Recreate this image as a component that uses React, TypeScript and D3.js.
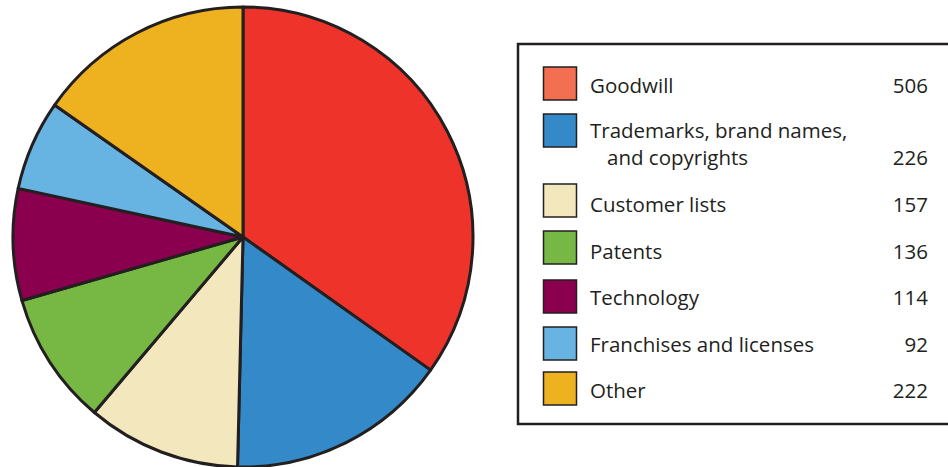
import React from "react";
import * as d3 from "d3";

const categories = [
  "Goodwill",
  "Trademarks, brand names,",
  "Customer lists",
  "Patents",
  "Technology",
  "Franchises and licenses",
  "Other",
];
const secondLines = ["", "and copyrights", "", "", "", "", ""];
const values = [506, 226, 157, 136, 114, 92, 222];
const pieColors = ["#EE332A", "#348AC9", "#F3E7BD", "#77B743", "#8A004F", "#67B3E2", "#EEB120"];
const legendColors = ["#F36F51", "#348AC9", "#F3E7BD", "#77B743", "#8A004F", "#67B3E2", "#EEB120"];

const W = 948;
const H = 467;
const cx = 243;
const cy = 237;
const R = 230;

const swatchTops = [67, 114, 184, 231, 280, 327, 372];
const baselines = [93, 138, 212, 259, 305, 352, 398];

export default function App() {
  const pie = d3
    .pie<number>()
    .sort(null)
    .value((d) => d)
    .startAngle(0)
    .endAngle(2 * Math.PI);
  const arcs = pie(values);
  const arc = d3.arc<d3.PieArcDatum<number>>().innerRadius(0).outerRadius(R);
  const dark = "#231F20";
  const font = "'Open Sans', 'Noto Sans', sans-serif";

  return (
    <svg
      width={W}
      height={H}
      style={{ position: "absolute", left: 0, top: 0, background: "#fff" }}
    >
      <g transform={`translate(${cx},${cy})`}>
        {arcs.map((a, i) => (
          <path
            key={i}
            d={arc(a) || ""}
            fill={pieColors[i]}
            stroke={dark}
            strokeWidth={3}
            strokeLinejoin="round"
          />
        ))}
      </g>
      <rect x={518} y={44} width={440} height={380} fill="none" stroke={dark} strokeWidth={2.5} />
      {categories.map((c, i) => {
        const top = swatchTops[i];
        const base = baselines[i];
        const two = secondLines[i] !== "";
        return (
          <g key={i} fontFamily={font} fontSize={20.5} fill={dark}>
            <rect x={543.5} y={top} width={33} height={33} fill={legendColors[i]} stroke={dark} strokeWidth={1.5} />
            <text x={590} y={base}>{c}</text>
            {two && <text x={607} y={165}>{secondLines[i]}</text>}
            <text x={928} y={two ? 165 : base} textAnchor="end">
              {values[i]}
            </text>
          </g>
        );
      })}
    </svg>
  );
}
